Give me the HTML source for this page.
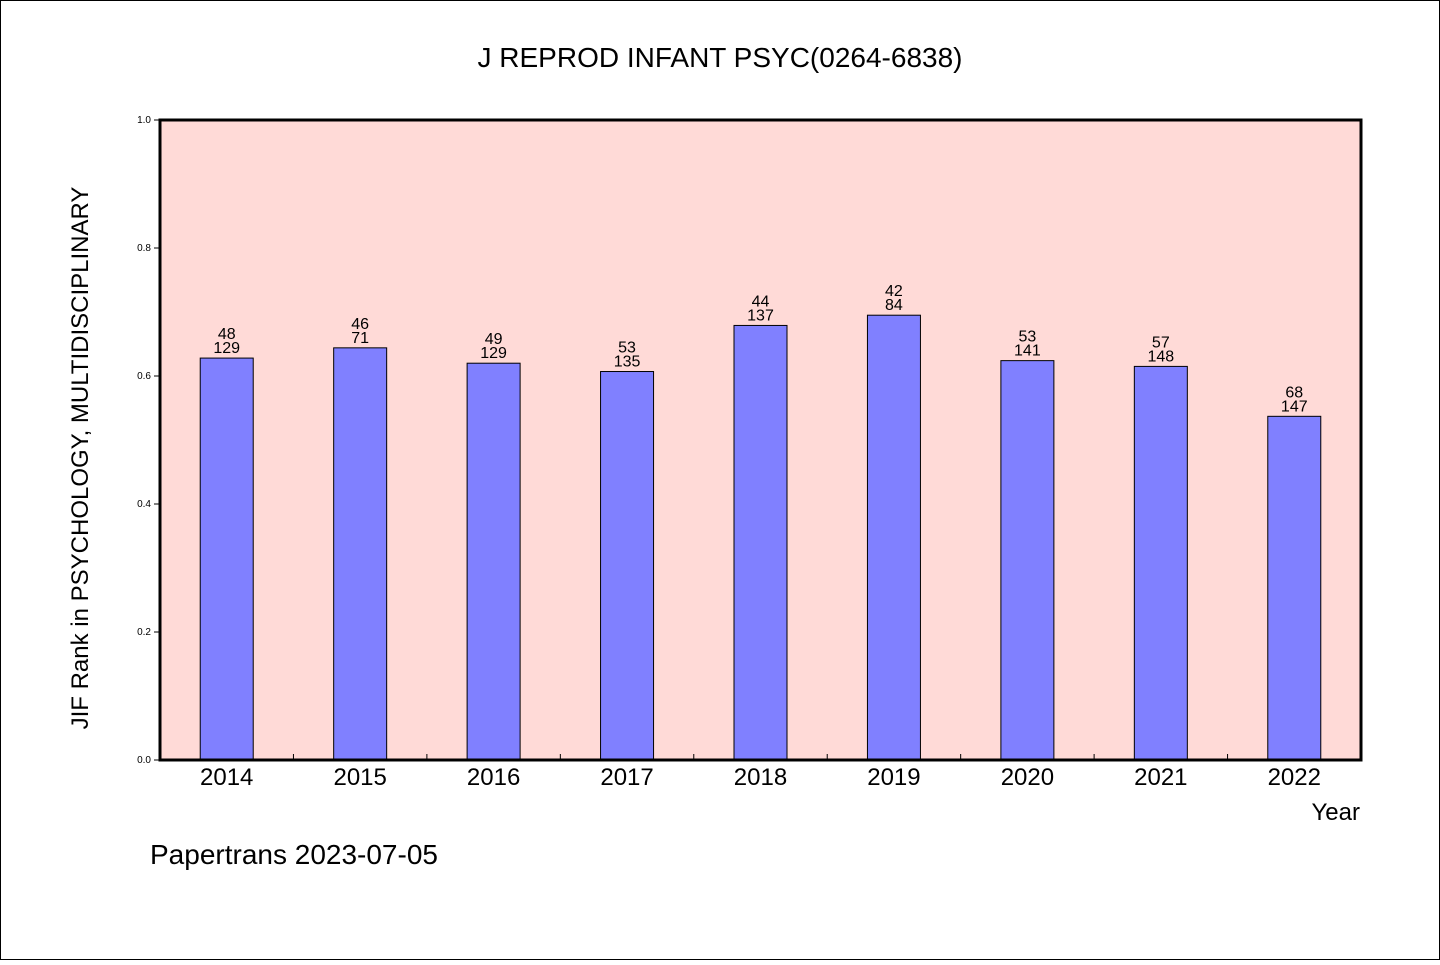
<!DOCTYPE html>
<html><head><meta charset="utf-8"><style>
body{margin:0;background:#fff}
svg text{font-family:"WenQuanYi Zen Hei","Liberation Sans",sans-serif;fill:#000}
</style></head><body>
<svg id="chart" width="1440" height="960" xmlns="http://www.w3.org/2000/svg">
<rect x="0.5" y="0.5" width="1439" height="959" fill="#fff" stroke="#000"/>
<text x="720" y="67" font-size="28" text-anchor="middle">J REPROD INFANT PSYC(0264-6838)</text>
<rect x="160" y="120" width="1201" height="640" fill="#ffdad7"/>
<g id="bars"></g>
<g id="axes"></g>
<text x="88" y="458" font-size="24" text-anchor="middle" transform="rotate(-90 88 458)">JIF Rank in PSYCHOLOGY, MULTIDISCIPLINARY</text>
<text x="1360" y="820" font-size="24" text-anchor="end">Year</text>
<text x="150" y="864" font-size="28">Papertrans 2023-07-05</text>
</svg>
<script>
const years=["2014","2015","2016","2017","2018","2019","2020","2021","2022"];
const values=[0.628,0.644,0.620,0.607,0.679,0.695,0.624,0.615,0.537];
const ranks=["48","46","49","53","44","42","53","57","68"];
const totals=["129","71","129","135","137","84","141","148","147"];
const yTicks=[0,0.2,0.4,0.6,0.8,1.0];
const L=160,R=1361,T=120,B=760;
const bw=(R-L)/years.length;
const x=i=>L+bw*(i+0.5);
const y=v=>B-(B-T)*v;
const NS="http://www.w3.org/2000/svg";
function mk(tag,attrs,parent){const e=document.createElementNS(NS,tag);for(const k in attrs)e.setAttribute(k,attrs[k]);parent.appendChild(e);return e;}
const bars=document.getElementById('bars'),axes=document.getElementById('axes');
years.forEach((yr,i)=>{
 const r=mk('rect',{x:x(i)-26.5,y:y(values[i]),width:53,height:B-y(values[i]),fill:'#8080ff',stroke:'#000','stroke-width':1},bars);
 
 
 const t1=mk('text',{x:x(i),y:y(values[i])-19,'font-size':16,'text-anchor':'middle'},bars);t1.textContent=ranks[i];
 
 
 const t2=mk('text',{x:x(i),y:y(values[i])-5,'font-size':16,'text-anchor':'middle'},bars);t2.textContent=totals[i];
 
 
 const xl=mk('text',{x:x(i),y:785,'font-size':24,'text-anchor':'middle'},axes);xl.textContent=yr;
 
 
 if(i>0){const tk=mk('line',{x1:L+bw*i,x2:L+bw*i,y1:B,y2:B-6,stroke:'#000'},axes);
 
 }
});
yTicks.forEach(v=>{
 const tk=mk('line',{x1:L-6,x2:L,y1:y(v),y2:y(v),stroke:'#000'},axes);
 
 
 const tl=mk('text',{x:L-9,y:y(v)+3,'font-size':10,'text-anchor':'end'},axes);tl.textContent=v.toFixed(1);
 
 
});
const fr=mk('rect',{x:L,y:T,width:R-L,height:B-T,fill:'none',stroke:'#000','stroke-width':3},axes);


</script>
</body></html>
